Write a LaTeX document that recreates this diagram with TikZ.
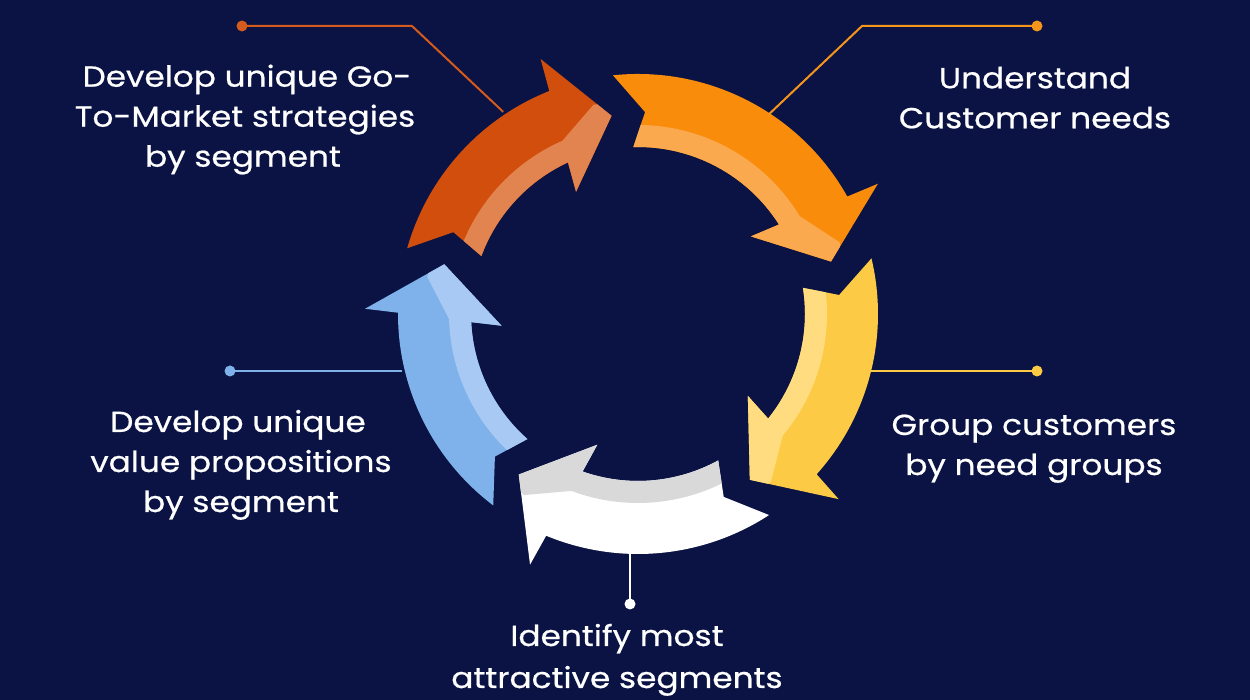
\documentclass[tikz,border=0pt]{standalone}
\usepackage{fontspec}
\setmainfont{Poppins}[FakeStretch=1.13,FakeBold=0.6]
\usetikzlibrary{calc}
\definecolor{bg}{HTML}{0A1343}
\definecolor{redmain}{HTML}{D14E0D}
\definecolor{redband}{HTML}{E2844F}
\definecolor{orgmain}{HTML}{F98C0B}
\definecolor{orgband}{HTML}{FBA94E}
\definecolor{yelmain}{HTML}{FDCA45}
\definecolor{yelband}{HTML}{FEDC7F}
\definecolor{whtmain}{HTML}{FFFFFF}
\definecolor{whtband}{HTML}{D9D9D9}
\definecolor{blumain}{HTML}{7FB1EA}
\definecolor{bluband}{HTML}{A7C9F3}
\definecolor{redline}{HTML}{D45A1E}
\definecolor{orgline}{HTML}{F5951C}
% #1 tip angle, #2 angular length
\def\arrowpath#1#2{(#1+#2:240pt) arc[start angle=#1+#2, end angle=#1+14.1, radius=240pt] -- (#1+13.3:273pt) -- (#1:200pt) -- (#1+19.3:137pt) -- (#1+17.2:167pt) arc[start angle=#1+17.2, end angle=#1+#2-4.4, radius=167pt] -- (#1+#2-8:202pt) -- cycle}
\def\bandpath#1#2{(#1+#2+5:189pt) arc[start angle=#1+#2+5, end angle=#1+16, radius=189pt] -- (#1+4.4:214pt) -- (#1-10:214pt) -- (#1-10:100pt) -- (#1+#2+5:100pt) -- cycle}
\newcommand{\cyclearrow}[4]{%
  \begin{scope}[shift={(638,386)}]
    \fill[#3] \arrowpath{#1}{#2};
    \begin{scope}
      \clip \arrowpath{#1}{#2};
      \fill[#4] \bandpath{#1}{#2};
    \end{scope}
  \end{scope}}
\begin{document}
\begin{tikzpicture}[x=1pt,y=1pt,
  lbl/.style={text=white,font=\fontsize{29}{40}\selectfont,inner sep=0pt,anchor=base},
  dot/.style={circle,fill=#1,minimum size=11pt,inner sep=0pt},
  lead/.style={line width=2pt,draw=#1}]
\useasboundingbox (0,0) rectangle (1250,700);
\fill[bg] (0,0) rectangle (1250,700);
\coordinate (C) at (638,386);
% arrows
\cyclearrow{97.6}{66.5}{redmain}{redband}
\cyclearrow{15.2}{80.8}{orgmain}{orgband}
\cyclearrow{-56.0}{69.4}{yelmain}{yelband}
\cyclearrow{-126.6}{69.7}{whtmain}{whtband}
\cyclearrow{165.6}{67.3}{blumain}{bluband}
% attachment points on arrows
\coordinate (eR) at ($(C)+(123.7:243pt)$);
\coordinate (eO) at ($(C)+(56.8:238pt)$);
\coordinate (eY) at (867,329);
\coordinate (eB) at (402,329);
\coordinate (eW) at (630,147);
% dots
\node[dot=redline] (dR) at (242,674) {};
\node[dot=orgline] (dO) at (1037,674) {};
\node[dot=yelmain] (dY) at (1037,329) {};
\node[dot=blumain] (dB) at (230,329) {};
\node[dot=white] (dW) at (630,96) {};
\coordinate (kR) at (412,674);
\coordinate (kO) at (862,674);
% leaders
\draw[lead=redline] (dR.center) -- (kR) -- (eR);
\draw[lead=orgline] (dO.center) -- (kO) -- (eO);
\draw[lead=yelmain] (eY) -- (dY.center);
\draw[lead=blumain] (dB.center) -- (eB);
\draw[lead=white] (eW) -- (dW.center);
% labels
\node[lbl] (t1a) at (247,613.3) {Develop unique Go-};
\node[lbl] (t1b) at (245,573.3) {To-Market strategies};
\node[lbl] (t1c) at (243,533.3) {by segment};
\node[lbl] (t2a) at (1035,611.7) {Understand};
\node[lbl] (t2b) at (1035,571.7) {Customer needs};
\node[lbl] (t3a) at (1034,265) {Group customers};
\node[lbl] (t3b) at (1034,225) {by need groups};
\node[lbl] (t4a) at (238,268) {Develop unique};
\node[lbl] (t4b) at (241,228) {value propositions};
\node[lbl] (t4c) at (241,188) {by segment};
\node[lbl] (t5a) at (617,54) {Identify most};
\node[lbl] (t5b) at (617,12) {attractive segments};
\end{tikzpicture}
\end{document}
